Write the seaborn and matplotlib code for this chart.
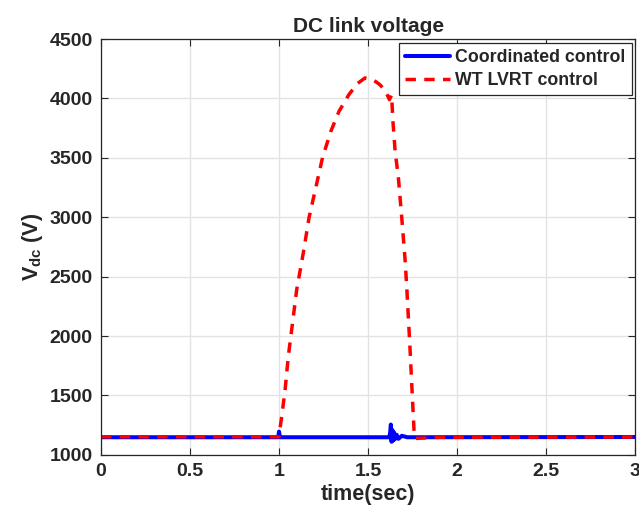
import matplotlib
matplotlib.use("Agg")
import matplotlib.pyplot as plt
import seaborn as sns
import numpy as np

# ---- data ----
red_t = [0.0, 0.5, 0.999, 1.015, 1.034, 1.052, 1.071, 1.099, 1.136, 1.169, 1.244, 1.29,
         1.337, 1.393, 1.44, 1.483, 1.52, 1.545, 1.567, 1.585, 1.605, 1.62, 1.632, 1.64,
         1.652, 1.67, 1.689, 1.708, 1.717, 1.726, 1.736, 1.745, 1.758, 1.765, 1.9, 3.0]
red_v = [1152, 1152, 1152, 1322, 1546, 1828, 2052, 2388, 2697, 3000, 3500, 3720,
         3892, 4034, 4125, 4173, 4160, 4140, 4115, 4085, 4040, 3990, 4030, 3800,
         3556, 3338, 3000, 2640, 2416, 2164, 1883, 1603, 1210, 1138, 1148, 1150]

blue_t = [0.0, 0.995, 1.0, 1.005, 1.62, 1.625, 1.628, 1.632, 1.636, 1.64, 1.645,
          1.65, 1.66, 1.67, 1.69, 1.72, 3.0]
blue_v = [1148, 1148, 1195, 1148, 1148, 1200, 1255, 1110, 1210, 1120, 1190,
          1130, 1170, 1135, 1160, 1148, 1150]

x_ticks = [0, 0.5, 1, 1.5, 2, 2.5, 3]
x_tick_labels = ["0", "0.5", "1", "1.5", "2", "2.5", "3"]
y_ticks = [1000, 1500, 2000, 2500, 3000, 3500, 4000, 4500]

sns.set_theme(style="whitegrid")
plt.rcParams['font.family'] = ['Liberation Sans', 'DejaVu Sans']
plt.rcParams['font.weight'] = 'bold'
plt.rcParams['mathtext.fontset'] = 'custom'
plt.rcParams['mathtext.rm'] = 'Liberation Sans:bold'
plt.rcParams['mathtext.default'] = 'rm'

fig, ax = plt.subplots(figsize=(6.39, 5.21), dpi=100)
fig.subplots_adjust(left=0.158, right=0.994, top=0.925, bottom=0.127)
ax.set_facecolor('white')

sns.lineplot(x=blue_t, y=blue_v, ax=ax, color='#0000ff', lw=2.9, sort=False,
             estimator=None, label='Coordinated control')
sns.lineplot(x=red_t, y=red_v, ax=ax, color='#ff0000', lw=2.5, sort=False,
             estimator=None, label='WT LVRT control', linestyle=(0, (3.0, 2.4)))

ax.set_xlim(0, 3)
ax.set_ylim(1000, 4500)
ax.set_xticks(x_ticks)
ax.set_xticklabels(x_tick_labels)
ax.set_yticks(y_ticks)
ax.grid(True, color='#e3e3e3', lw=1.0)
ax.tick_params(axis='both', which='both', direction='in', length=5, width=0.8,
               colors='#262626', labelsize=14, top=True, right=True,
               bottom=True, left=True, pad=6)
for lab in ax.get_xticklabels() + ax.get_yticklabels():
    lab.set_fontweight('bold')
for s in ax.spines.values():
    s.set_visible(True)
    s.set_color('#262626')
    s.set_linewidth(0.9)

ax.set_title('DC link voltage', fontsize=15, fontweight='bold', pad=5)
ax.set_xlabel('time(sec)', fontsize=15.5, fontweight='bold', labelpad=3)
ax.set_ylabel('V$_{\\rm dc}$ (V)', fontsize=15.5, fontweight='bold', labelpad=3)

leg = ax.legend(loc='upper right', fontsize=12.8, frameon=True, fancybox=False,
                framealpha=1, edgecolor='#262626', borderaxespad=0.2,
                handlelength=2.5, borderpad=0.35, labelspacing=0.35, handletextpad=0.3)
leg.get_frame().set_linewidth(0.9)
for t in leg.get_texts():
    t.set_fontweight('bold')

fig.savefig('out.png', dpi=100, facecolor='white')
